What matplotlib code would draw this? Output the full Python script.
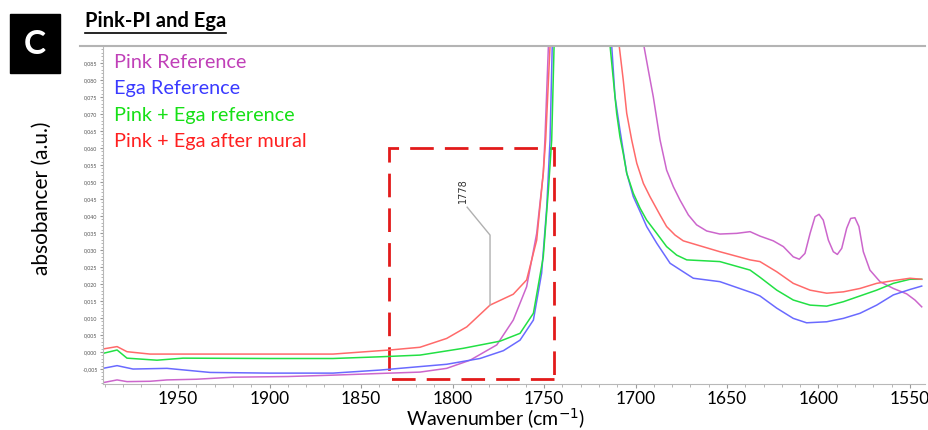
import matplotlib
matplotlib.use("Agg")
import matplotlib.pyplot as plt
from matplotlib.lines import Line2D
from matplotlib.patches import Rectangle
from matplotlib.ticker import MultipleLocator, FixedLocator, FuncFormatter

plt.rcParams["font.family"] = ["Lato", "DejaVu Sans"]

# 数据：读图估计的波数 (cm-1) 与吸光度
# 1730 处的 0.3 只是把峰顶画到坐标框外面去（图里被截断）
pink_wn = [1991.0, 1983.3, 1977.9, 1965.3, 1956.0, 1940.0, 1919.9, 1890.0, 1865.3,
           1839.6, 1817.8, 1803.2, 1790.4, 1775.8, 1766.8, 1759.5, 1754.0, 1750.4,
           1749.5, 1747.6, 1730.0, 1695.4, 1693.0, 1690.3, 1686.6, 1683.0, 1679.3,
           1675.7, 1671.1, 1666.6, 1661.1, 1653.9,
           1644.7, 1637.4, 1632.0, 1624.7, 1619.2, 1613.8, 1610.5, 1607.4, 1604.6,
           1601.9, 1599.7, 1597.4, 1594.6, 1591.9, 1589.7, 1587.3, 1584.6, 1582.4,
           1580.1, 1577.9, 1575.5, 1571.9, 1566.4, 1559.1, 1551.8, 1547.3, 1543.6]
pink_abs = [-0.0090, -0.0082, -0.0087, -0.0086, -0.0082, -0.0080, -0.0074, -0.0072, -0.0068,
            -0.0063, -0.0059, -0.0048, -0.0024, 0.0021, 0.0094, 0.0192, 0.0349, 0.0526,
            0.0624, 0.0900, 0.3000, 0.0900, 0.0829, 0.0751, 0.0624, 0.0535, 0.0486,
            0.0447, 0.0403, 0.0374, 0.0356, 0.0347,
            0.0349, 0.0354, 0.0341, 0.0327, 0.0310, 0.0280, 0.0273, 0.0290, 0.0349,
            0.0398, 0.0405, 0.0388, 0.0329, 0.0295, 0.0287, 0.0305, 0.0364, 0.0393,
            0.0395, 0.0369, 0.0295, 0.0241, 0.0207, 0.0187, 0.0171, 0.0153, 0.0133]

ega_wn = [1991.0, 1983.3, 1974.6, 1956.0, 1932.5, 1900.0, 1865.3, 1839.6, 1803.2,
          1785.0, 1772.2, 1763.1, 1755.8, 1751.3, 1748.5, 1746.7, 1745.5, 1730.0,
          1713.0, 1711.2, 1708.5, 1704.8, 1701.2, 1697.5, 1693.9, 1688.4, 1681.1,
          1673.9, 1668.4, 1653.9, 1635.6, 1632.0,
          1622.8, 1613.8, 1606.5, 1595.5, 1586.4, 1577.3, 1568.2, 1559.1, 1550.0, 1543.6]
ega_abs = [-0.0048, -0.0040, -0.0050, -0.0048, -0.0060, -0.0062, -0.0062, -0.0053, -0.0036,
           -0.0019, 0.0004, 0.0035, 0.0094, 0.0232, 0.0427, 0.0624, 0.0900, 0.3000,
           0.0900, 0.0751, 0.0653, 0.0526, 0.0457, 0.0413, 0.0369, 0.0320, 0.0261,
           0.0236, 0.0217, 0.0207, 0.0173, 0.0165,
           0.0129, 0.0099, 0.0086, 0.0089, 0.0099, 0.0114, 0.0138, 0.0168, 0.0184, 0.0194]

mix_wn = [1991.0, 1983.3, 1977.9, 1961.5, 1947.3, 1900.0, 1865.3, 1839.6, 1817.8,
          1794.1, 1774.0, 1763.1, 1755.8, 1750.4, 1747.6, 1745.8, 1744.5, 1730.0,
          1713.9, 1711.2, 1710.3, 1708.5, 1706.7, 1704.8, 1701.2, 1697.5, 1693.9,
          1688.4, 1683.0, 1677.5, 1672.0, 1653.9, 1637.4,
          1632.0, 1622.8, 1613.8, 1604.6, 1595.5, 1586.4, 1577.3, 1568.2, 1559.1,
          1550.0, 1543.6]
mix_abs = [-0.0004, 0.0006, -0.0018, -0.0024, -0.0018, -0.0019, -0.0019, -0.0014, -0.0009,
           0.0011, 0.0032, 0.0055, 0.0114, 0.0280, 0.0477, 0.0624, 0.0900, 0.3000,
           0.0900, 0.0751, 0.0702, 0.0633, 0.0584, 0.0526, 0.0467, 0.0423, 0.0388,
           0.0349, 0.0310, 0.0285, 0.0271, 0.0266, 0.0241,
           0.0220, 0.0182, 0.0153, 0.0138, 0.0135, 0.0148, 0.0165, 0.0182, 0.0202,
           0.0214, 0.0214]

mural_wn = [1991.0, 1983.3, 1977.9, 1965.3, 1900.0, 1865.3, 1839.6, 1834.2, 1817.8,
            1803.2, 1792.2, 1779.5, 1766.8, 1759.5, 1754.0, 1750.4, 1749.1, 1746.7,
            1730.0, 1708.9, 1706.7, 1704.8, 1702.1, 1699.3, 1695.7, 1692.1, 1686.6,
            1683.0, 1678.4, 1673.9, 1653.9, 1637.4,
            1632.0, 1622.8, 1613.8, 1604.6, 1595.5, 1586.4, 1577.3, 1568.2, 1559.1,
            1550.0, 1543.6]
mural_abs = [0.0009, 0.0016, 0.0001, -0.0006, -0.0006, -0.0006, 0.0004, 0.0006, 0.0014,
             0.0040, 0.0074, 0.0138, 0.0170, 0.0212, 0.0329, 0.0527, 0.0624, 0.0900,
             0.3000, 0.0900, 0.0800, 0.0702, 0.0624, 0.0555, 0.0496, 0.0457, 0.0403,
             0.0369, 0.0344, 0.0327, 0.0295, 0.0271,
             0.0266, 0.0236, 0.0202, 0.0182, 0.0173, 0.0177, 0.0187, 0.0202, 0.0210,
             0.0217, 0.0214]

labels = ["Pink Reference", "Ega Reference", "Pink + Ega reference", "Pink + Ega after mural"]
line_colors = ["#cc66cc", "#6a6aff", "#22e044", "#ff6a6a"]
text_colors = ["#c040b8", "#3a3aff", "#16e016", "#ff2020"]

# y 轴刻度（原图最上面不标 0.090）
y_ticks = [-0.005 + 0.005 * i for i in range(19)]

# 红框范围和标注峰位
box_wn = (1834.5, 1744.3)
box_abs = (-0.0080, 0.0600)
peak_wn = 1778

fig = plt.figure(figsize=(9.29, 4.30), dpi=100)
ax = fig.add_axes([103 / 929, 1 - 384 / 430, 822 / 929, 338 / 430])

series = [(pink_wn, pink_abs), (ega_wn, ega_abs), (mix_wn, mix_abs), (mural_wn, mural_abs)]
for (wn, ab), c in zip(series, line_colors):
    ax.plot(wn, ab, color=c, lw=1.1)

ax.set_xlim(1991.0, 1541.8)
ax.set_ylim(-0.0094, 0.0900)

# 红色虚线框
ax.add_patch(Rectangle((box_wn[1], box_abs[0]), box_wn[0] - box_wn[1], box_abs[1] - box_abs[0],
                       fill=False, ec="#e21a1a", lw=2, ls=(0, (8.5, 4))))

# 1778 标注
ax.plot([peak_wn + 14, peak_wn + 1.5, peak_wn + 1.5], [0.0426, 0.0344, 0.0138],
        color="#b0b0b0", lw=1)
ax.text(peak_wn + 16.5, 0.0476, str(peak_wn), rotation=90, fontsize=7,
        color="#333333", ha="center", va="center", family=["DejaVu Sans"])

# 坐标轴样式
for s in ["top", "right"]:
    ax.spines[s].set_visible(False)
ax.spines["left"].set_color("#b8b8b8")
ax.spines["bottom"].set_color("#b8b8b8")
ax.xaxis.set_major_locator(MultipleLocator(50))
ax.xaxis.set_minor_locator(MultipleLocator(10))
ax.yaxis.set_major_locator(FixedLocator(y_ticks))
ax.yaxis.set_minor_locator(MultipleLocator(0.001))
ax.yaxis.set_major_formatter(FuncFormatter(lambda v, p: f"{v:.3f}".replace(".", ",").replace("-0,000", "0,000")))
ax.tick_params(axis="x", which="major", length=3, color="#999999", labelsize=12.5, pad=2)
ax.tick_params(axis="x", which="minor", length=2, color="#aaaaaa")
ax.tick_params(axis="y", which="major", length=2.5, color="#999999", labelsize=3.8,
               labelcolor="#555555", pad=1.5)
ax.tick_params(axis="y", which="minor", length=1.2, color="#aaaaaa")

ax.set_xlabel("Wavenumber (cm$^{-1}$)", fontsize=14)
ax.xaxis.set_label_coords((496 - 103) / 822, -(419 - 384) / 338, transform=ax.transAxes)
ax.xaxis.label.set_va("center")
ax.set_ylabel("absobancer (a.u.)", fontsize=15)
ax.yaxis.set_label_coords(-(103 - 42) / 822, (384 - 198) / 338, transform=ax.transAxes)
ax.yaxis.label.set_va("center")

# 图例：彩色文字
for i, (lab, tc) in enumerate(zip(labels, text_colors)):
    fig.text(114 / 929, 1 - (62 + 26.5 * i) / 430, lab, color=tc, fontsize=14.3,
             ha="left", va="center")

# 顶部灰线
fig.add_artist(Line2D([80 / 929, 925 / 929], [1 - 46 / 430, 1 - 46 / 430],
                      color="#b4b4b4", lw=1.5))

# 标题（带下划线）和 C 标签
fig.text(85 / 929, 1 - 21 / 430, "Pink-PI and Ega", fontsize=14.5, fontweight="bold",
         ha="left", va="center")
fig.add_artist(Line2D([85 / 929, 226 / 929], [1 - 33 / 430, 1 - 33 / 430], color="black", lw=1.2))
fig.add_artist(Rectangle((10 / 929, 1 - 73 / 430), 50 / 929, 59 / 430, color="black",
                         transform=fig.transFigure))
fig.text(35 / 929, 1 - 44 / 430, "C", color="white", fontsize=24, fontweight="bold",
         ha="center", va="center")

fig.savefig("out.png", dpi=100)
